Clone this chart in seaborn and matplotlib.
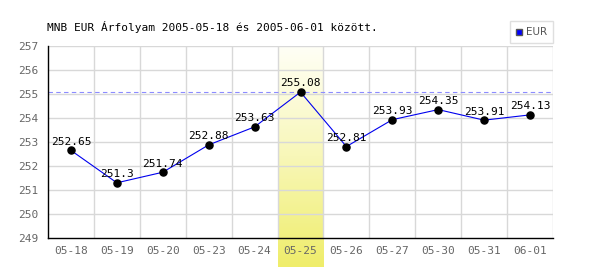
import numpy as np
import matplotlib
matplotlib.use("Agg")
import matplotlib.pyplot as plt
import seaborn as sns
from matplotlib.colors import LinearSegmentedColormap
from matplotlib.lines import Line2D

dates = ["05-18", "05-19", "05-20", "05-23", "05-24", "05-25", "05-26", "05-27", "05-30", "05-31", "06-01"]
values = [252.65, 251.3, 251.74, 252.88, 253.63, 255.08, 252.81, 253.93, 254.35, 253.91, 254.13]
labels = ["252.65", "251.3", "251.74", "252.88", "253.63", "255.08", "252.81", "253.93", "254.35", "253.91", "254.13"]
highlight = "05-25"
max_value = 255.08

sns.set_style("white")
plt.rcParams['font.family'] = ['DejaVu Sans Mono', 'DejaVu Sans']

fig = plt.figure(figsize=(6, 2.7), dpi=100)
ax = fig.add_axes([48/600, 1-238/270, 505/600, 192/270])

pos = np.arange(len(dates))

# highlight gradient band
hi = dates.index(highlight)
cmap = LinearSegmentedColormap.from_list("hl", ["#fffff6", "#f8f7b8", "#efed6a"])
grad = np.linspace(0, 1, 256).reshape(-1, 1)
ax.imshow(grad, cmap=cmap, aspect="auto", origin="upper",
          extent=(hi - 0.5, hi + 0.5, 247.8, 257), clip_on=False, zorder=0)
ax.set_xlim(-0.5, len(dates) - 0.5)
ax.set_ylim(249, 257)

# grid
for y in range(250, 258):
    ax.axhline(y, color="#d8d8d8", lw=1, zorder=1)
for x in np.arange(0.5, len(dates), 1.0):
    ax.axvline(x, color="#d8d8d8", lw=1, zorder=1)

ax.axhline(max_value, color="#8c8cff", lw=0.8, ls=(0, (4, 3)), zorder=2)

sns.lineplot(x=pos, y=values, ax=ax, color="#0000ee", lw=0.8, zorder=3)
ax.scatter(pos, values, s=26, color="black", zorder=4)
for x, v, t in zip(pos, values, labels):
    ax.text(x, v + 0.15, t, ha="center", va="bottom", fontsize=8, color="black", zorder=5)

ax.set_xticks(pos)
ax.set_xticklabels(dates)
ax.set_yticks(range(249, 258))
ax.tick_params(axis="both", colors="#666666", labelsize=8, length=0, pad=6)
ax.tick_params(axis="y", length=3, color="black", pad=4)

for s in ["top", "right"]:
    ax.spines[s].set_visible(False)
for s in ["left", "bottom"]:
    ax.spines[s].set_color("black")
    ax.spines[s].set_linewidth(1)

fig.text(47/600, 1-27/270, "MNB EUR Árfolyam 2005-05-18 és 2005-06-01 között.",
         fontsize=8, color="black", ha="left", va="center")

handle = Line2D([], [], marker="s", ls="none", markerfacecolor="#0000ff",
                markeredgecolor="#555555", markersize=5)
leg = fig.legend([handle], ["EUR"], loc="upper right", bbox_to_anchor=(553/600, 1-21/270),
                 frameon=True, fontsize=7.5, handlelength=0.6, handletextpad=0.3,
                 borderpad=0.6, borderaxespad=0, fancybox=False, labelcolor="#555555",
                 prop={"family": "DejaVu Sans", "size": 7.5})
leg.get_frame().set_edgecolor("#d8d8d8")
leg.get_frame().set_linewidth(1)

fig.savefig("out.png", dpi=100)
